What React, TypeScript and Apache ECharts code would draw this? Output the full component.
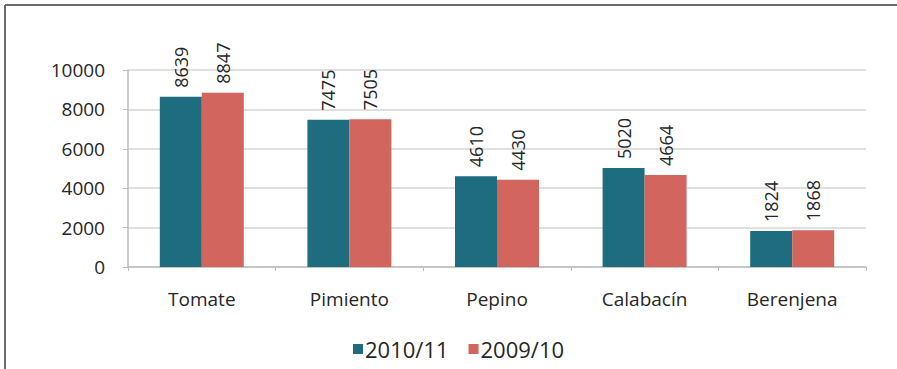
import React, { useEffect, useRef } from "react";
import * as echarts from "echarts";

const categories = ["Tomate", "Pimiento", "Pepino", "Calabacín", "Berenjena"];
const seriesNames = ["2010/11", "2009/10"];
const values2010 = [8639, 7475, 4610, 5020, 1824];
const values2009 = [8847, 7505, 4430, 4664, 1868];
const colors = ["#1d6d7e", "#d2665f"];

const FONT = "'Open Sans', 'DejaVu Sans', sans-serif";
const TEXT = "#262626";

export default function App() {
  const ref = useRef<HTMLDivElement>(null);

  useEffect(() => {
    if (!ref.current) return;
    const chart = echarts.init(ref.current, null, { renderer: "svg" });

    const labelStyle = {
      show: true,
      position: "top" as const,
      rotate: 90,
      align: "left" as const,
      verticalAlign: "middle" as const,
      distance: 9,
      fontFamily: FONT,
      fontSize: 18,
      color: TEXT,
    };

    chart.setOption({
      animation: false,
      backgroundColor: "#ffffff",
      grid: { left: 128, right: 31, top: 70, bottom: 102, containLabel: false },
      legend: {
        left: 348,
        bottom: 4,
        itemWidth: 10,
        itemHeight: 10,
        itemGap: 20,
        icon: "rect",
        textStyle: { fontFamily: FONT, fontSize: 22, color: TEXT, padding: [0, 0, 0, -3] },
        data: seriesNames,
      },
      xAxis: {
        type: "category",
        data: categories,
        axisLine: { show: true, lineStyle: { color: "#bdbdbd", width: 1.5 } },
        axisTick: { show: true, length: 4, lineStyle: { color: "#bdbdbd" } },
        axisLabel: { fontFamily: FONT, fontSize: 19, color: TEXT, margin: 22 },
      },
      yAxis: {
        type: "value",
        min: 0,
        max: 10000,
        interval: 2000,
        axisLine: { show: true, lineStyle: { color: "#bdbdbd", width: 1.5 } },
        axisTick: { show: true, length: 5, lineStyle: { color: "#bdbdbd" } },
        axisLabel: {
          fontFamily: FONT,
          fontSize: 19,
          color: TEXT,
          margin: 23,
          formatter: (v: number) => String(v),
        },
        splitLine: { show: true, lineStyle: { color: "#d6d6d6", width: 1.5 } },
      },
      series: [
        {
          name: seriesNames[0],
          type: "bar",
          data: values2010,
          barWidth: 42,
          barGap: "0%",
          itemStyle: { color: colors[0] },
          label: labelStyle,
        },
        {
          name: seriesNames[1],
          type: "bar",
          data: values2009,
          barWidth: 42,
          barGap: "0%",
          itemStyle: { color: colors[1] },
          label: labelStyle,
        },
      ],
      graphic: [
        {
          type: "line",
          shape: { x1: 5, y1: 5, x2: 897, y2: 5 },
          style: { stroke: "#6b6b6b", lineWidth: 2 },
        },
        {
          type: "line",
          shape: { x1: 5, y1: 5, x2: 5, y2: 369 },
          style: { stroke: "#6b6b6b", lineWidth: 2 },
        },
      ],
    });

    return () => chart.dispose();
  }, []);

  return (
    <div
      ref={ref}
      style={{ position: "fixed", left: 0, top: 0, width: 897, height: 369 }}
    />
  );
}
